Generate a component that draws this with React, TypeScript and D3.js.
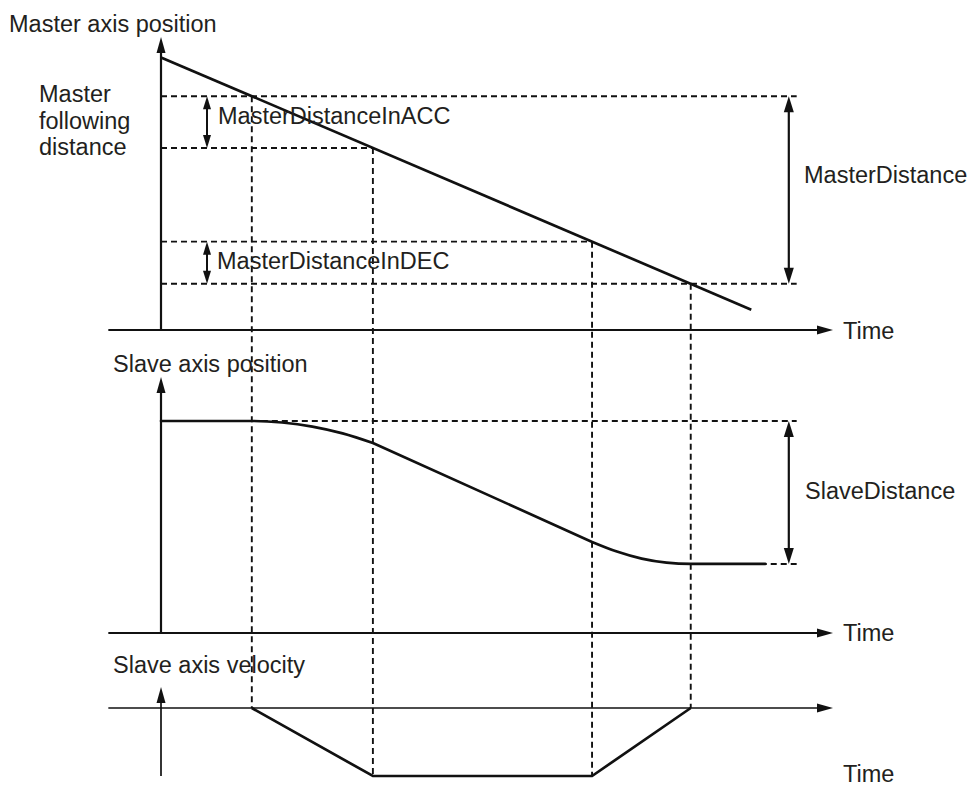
import React from 'react';
import * as d3 from 'd3';

const W = 973;
const H = 787;
const font = "'Liberation Sans', Arial, Helvetica, sans-serif";
const ink = '#111';
const textInk = '#231f20';

// phase boundaries on the time axis: start, end of ACC, start of DEC, end
const phaseTimes = [1.5, 3.5, 7.12, 8.75];

// master axis position: straight line (time, position)
const masterT = [0, 9.75];
const masterP = [9.4, 0.7];

// slave axis position
const slaveT = [0, 1.5, 2.0, 2.5, 3.0, 3.5, 7.12, 7.53, 7.94, 8.35, 8.75, 9.98];
const slaveS = [83.8, 83.8, 83.2, 81.6, 78.9, 75.1, 36.0, 32.2, 29.4, 27.8, 27.3, 27.3];

// slave axis velocity (trapezoid, negative direction)
const velT = [1.5, 3.5, 7.12, 8.75];
const velV = [0, -1, -1, 0];

const labels = {
  masterAxis: 'Master axis position',
  following: ['Master', 'following', 'distance'],
  acc: 'MasterDistanceInACC',
  dec: 'MasterDistanceInDEC',
  masterDist: 'MasterDistance',
  slaveAxis: 'Slave axis position',
  slaveDist: 'SlaveDistance',
  velAxis: 'Slave axis velocity',
  time: 'Time',
};

const x = d3.scaleLinear().domain([0, 11.1]).range([161, 833]);
const yM = d3.scaleLinear().domain([0, 10]).range([330, 40]);
const yS = d3.scaleLinear().domain([0, 100]).range([633, 380]);
const yV = d3.scaleLinear().domain([-1, 0]).range([776, 708]);

const masterAt = d3.scaleLinear().domain(masterT).range(masterP);

function Head({ x0, y0, dir, len = 15, half = 4.5 }) {
  let pts;
  if (dir === 'up') pts = [[x0, y0], [x0 - half, y0 + len], [x0 + half, y0 + len]];
  else if (dir === 'down') pts = [[x0, y0], [x0 - half, y0 - len], [x0 + half, y0 - len]];
  else pts = [[x0, y0], [x0 - len, y0 - half], [x0 - len, y0 + half]];
  return <polygon points={pts.map(p => p.join(',')).join(' ')} fill={ink} />;
}

function DoubleArrow({ x0, y1, y2, len = 15, half = 4.5, sw = 2 }) {
  return (
    <g>
      <line x1={x0} x2={x0} y1={y1 + len - 2} y2={y2 - len + 2} stroke={ink} strokeWidth={sw} />
      <Head x0={x0} y0={y1} dir="up" len={len} half={half} />
      <Head x0={x0} y0={y2} dir="down" len={len} half={half} />
    </g>
  );
}

function Label({ x0, y0, children }) {
  return (
    <text x={x0} y={y0} fontFamily={font} fontSize={23.5} fill={textInk}>
      {children}
    </text>
  );
}

export default function App() {
  const dash = { stroke: ink, strokeWidth: 1.9, strokeDasharray: '6 4', fill: 'none' };
  const axis = { stroke: ink, strokeWidth: 2.2 };

  const tStart = phaseTimes[0];
  const tAcc = phaseTimes[1];
  const tDec = phaseTimes[2];
  const tEnd = phaseTimes[3];

  const pStart = masterAt(tStart);
  const pAcc = masterAt(tAcc);
  const pDec = masterAt(tDec);
  const pEnd = masterAt(tEnd);

  const sTop = slaveS[0];
  const sBottom = slaveS[slaveS.length - 1];

  const xAxisL = x(-0.87);
  const xAxisR = x(11.1);
  const xRight = x(10.5);
  const xArrow = x(10.37);

  const slavePts = slaveT.map((t, i) => [t, slaveS[i]]);
  const mono = d3.line().x(d => x(d[0])).y(d => yS(d[1])).curve(d3.curveMonotoneX);
  const lin = d3.line().x(d => x(d[0])).y(d => yS(d[1]));
  const slavePath = mono(slavePts.slice(0, 6)) + lin(slavePts.slice(5, 7)) + mono(slavePts.slice(6));

  const masterPath = d3.line().x(d => x(d[0])).y(d => yM(d[1]))(masterT.map((t, i) => [t, masterP[i]]));
  const velPath = d3.line().x(d => x(d[0])).y(d => yV(d[1]))(velT.map((t, i) => [t, velV[i]]));

  return (
    <svg width={W} height={H} style={{ position: 'absolute', left: 0, top: 0, background: '#fff' }}>
      {/* dashed guides */}
      <g>
        <line x1={x(0)} x2={xRight} y1={yM(pStart)} y2={yM(pStart)} {...dash} />
        <line x1={x(0)} x2={x(tAcc)} y1={yM(pAcc)} y2={yM(pAcc)} {...dash} />
        <line x1={x(0)} x2={x(tDec)} y1={yM(pDec)} y2={yM(pDec)} {...dash} />
        <line x1={x(0)} x2={xRight} y1={yM(pEnd)} y2={yM(pEnd)} {...dash} />
        <line x1={x(tStart)} x2={x(tStart)} y1={yM(pStart)} y2={yV(0)} {...dash} />
        <line x1={x(tAcc)} x2={x(tAcc)} y1={yM(pAcc)} y2={yV(-1)} {...dash} />
        <line x1={x(tDec)} x2={x(tDec)} y1={yM(pDec)} y2={yV(-1)} {...dash} />
        <line x1={x(tEnd)} x2={x(tEnd)} y1={yM(pEnd)} y2={yV(0)} {...dash} />
        <line x1={x(tStart)} x2={xRight} y1={yS(sTop)} y2={yS(sTop)} {...dash} />
        <line x1={x(tEnd)} x2={xRight} y1={yS(sBottom)} y2={yS(sBottom)} {...dash} />
      </g>

      {/* master axes */}
      <line x1={x(0)} x2={x(0)} y1={yM(0)} y2={yM(10.1) + 13} {...axis} />
      <Head x0={x(0)} y0={yM(10.1)} dir="up" len={16} />
      <line x1={xAxisL} x2={xAxisR - 14} y1={yM(0)} y2={yM(0)} {...axis} />
      <Head x0={xAxisR} y0={yM(0)} dir="right" len={16} />

      {/* slave position axes */}
      <line x1={x(0)} x2={x(0)} y1={yS(0)} y2={yS(101.2) + 13} {...axis} />
      <Head x0={x(0)} y0={yS(101.2)} dir="up" len={16} />
      <line x1={xAxisL} x2={xAxisR - 14} y1={yS(0)} y2={yS(0)} {...axis} />
      <Head x0={xAxisR} y0={yS(0)} dir="right" len={16} />

      {/* velocity axes */}
      <line x1={x(0)} x2={x(0)} y1={yV(-1)} y2={yV(0.31) + 13} stroke={ink} strokeWidth={1.7} />
      <Head x0={x(0)} y0={yV(0.31)} dir="up" len={16} />
      <line x1={xAxisL} x2={xAxisR - 14} y1={yV(0)} y2={yV(0)} stroke={ink} strokeWidth={1.7} />
      <Head x0={xAxisR} y0={yV(0)} dir="right" len={16} />

      {/* curves */}
      <path d={masterPath} stroke={ink} strokeWidth={2.7} fill="none" />
      <path d={slavePath} stroke={ink} strokeWidth={2.7} fill="none" strokeLinecap="round" />
      <path d={velPath} stroke={ink} strokeWidth={2.7} fill="none" strokeLinejoin="miter" />

      {/* dimension arrows */}
      <DoubleArrow x0={x(0.76)} y1={yM(pStart)} y2={yM(pAcc)} len={13} half={4} sw={2} />
      <DoubleArrow x0={x(0.76)} y1={yM(pDec)} y2={yM(pEnd)} len={13} half={4} sw={2} />
      <DoubleArrow x0={xArrow} y1={yM(pStart)} y2={yM(pEnd)} len={16} half={5} sw={2.2} />
      <DoubleArrow x0={xArrow} y1={yS(sTop)} y2={yS(sBottom)} len={16} half={5} sw={2.2} />

      {/* labels */}
      <Label x0={9} y0={32}>{labels.masterAxis}</Label>
      {labels.following.map((s, i) => (
        <Label key={s} x0={39} y0={102 + i * 26.5}>{s}</Label>
      ))}
      <Label x0={218} y0={124}>{labels.acc}</Label>
      <Label x0={217} y0={269}>{labels.dec}</Label>
      <Label x0={804} y0={183}>{labels.masterDist}</Label>
      <Label x0={843} y0={339}>{labels.time}</Label>
      <Label x0={113} y0={372}>{labels.slaveAxis}</Label>
      <Label x0={805} y0={499}>{labels.slaveDist}</Label>
      <Label x0={843} y0={641}>{labels.time}</Label>
      <Label x0={113} y0={673}>{labels.velAxis}</Label>
      <Label x0={843} y0={782}>{labels.time}</Label>
    </svg>
  );
}
